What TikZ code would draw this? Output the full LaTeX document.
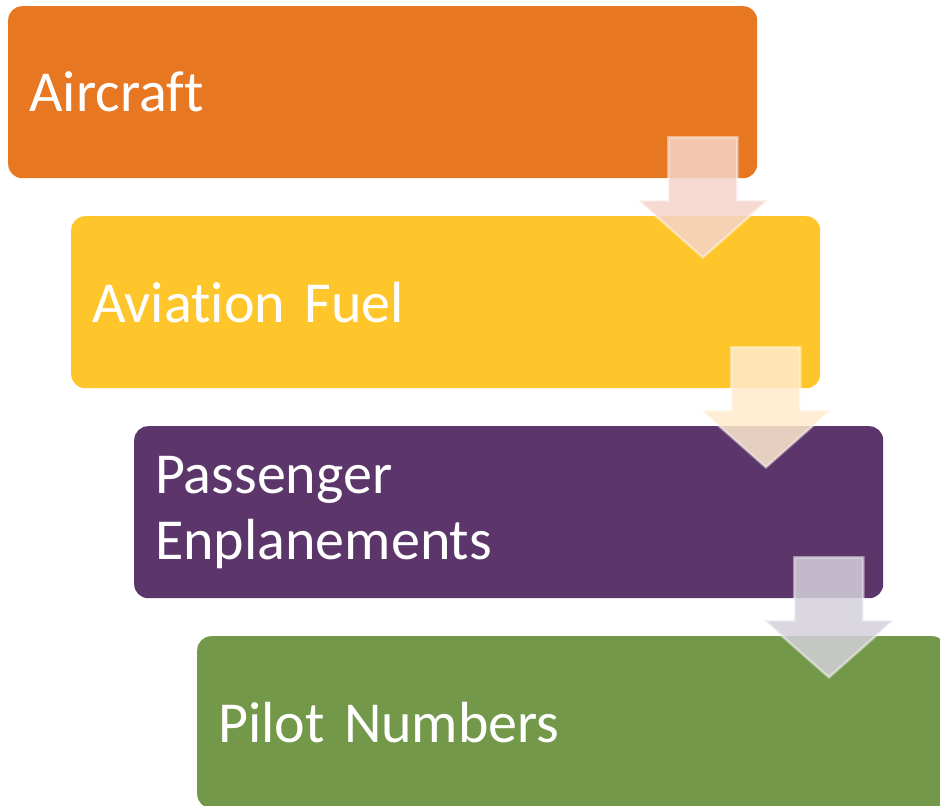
\documentclass[tikz,border=0pt]{standalone}
\usepackage{fontspec}
\setmainfont{Carlito}[Ligatures=NoCommon,WordSpace=0.8]
\usetikzlibrary{calc}
\definecolor{StageOrange}{RGB}{232,119,34}
\definecolor{StageYellow}{RGB}{255,198,43}
\definecolor{StagePurple}{RGB}{92,54,107}
\definecolor{StageGreen}{RGB}{115,152,74}
\definecolor{FlowOrange}{RGB}{245,212,202}
\definecolor{FlowYellow}{RGB}{255,234,205}
\definecolor{FlowPurple}{RGB}{212,208,219}

\begin{document}
\begin{tikzpicture}[x=1pt,y=-1pt,
  stage/.style={rectangle,rounded corners=14pt,anchor=north west,minimum width=749pt,
    minimum height=172pt,text width=707pt,inner xsep=21pt,inner ysep=0pt,align=left,
    text=white,font=\fontsize{58}{66}\selectfont},
  flow/.style={draw=white,draw opacity=.45,line width=2.5pt,fill opacity=.85}]
\fill[white] (0,0) rectangle (940,806);
\useasboundingbox (0,0) rectangle (940,806);
\clip (0,0) rectangle (940,806);
\node[stage,fill=StageOrange] (air) at (8,6) {Aircraft};
\node[stage,fill=StageYellow] (fuel) at (71,216) {Aviation Fuel};
\node[stage,fill=StagePurple] (pax) at (134,426) {Passenger\\Enplanements};
\node[stage,fill=StageGreen] (pilot) at (197,636) {Pilot Numbers};
\foreach \a/\c in {air/FlowOrange,fuel/FlowYellow,pax/FlowPurple}
  \draw[flow,fill=\c] ($(\a.south east)+(-89,-41)$) -- ++(69,0) -- ++(0,63) -- ++(30,0)
    -- ++(-64.5,57) -- ++(-64.5,-57) -- ++(30,0) -- cycle;
\end{tikzpicture}
\end{document}
